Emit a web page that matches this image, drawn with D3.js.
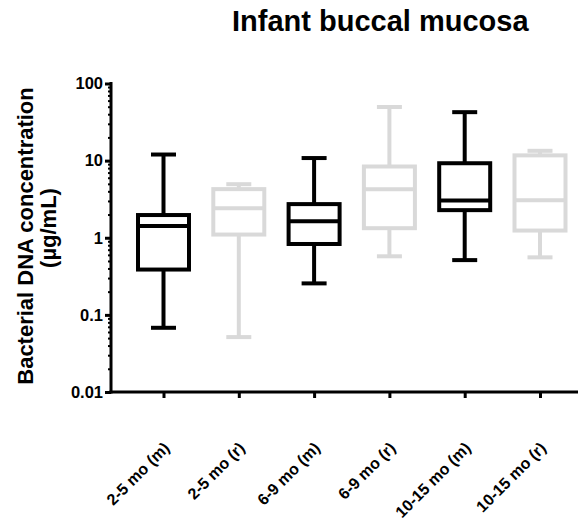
<!DOCTYPE html>
<html>
<head>
<meta charset="utf-8">
<script src="https://cdn.jsdelivr.net/npm/d3@7"></script>
<style>
  html, body { margin: 0; padding: 0; background: #fff; }
  svg { display: block; }
</style>
</head>
<body>
<svg id="chart" width="578" height="525"></svg>
<script>
// Groups (age range, m / r sample type)
const categories = ["2-5 mo (m)", "2-5 mo (r)", "6-9 mo (m)", "6-9 mo (r)", "10-15 mo (m)", "10-15 mo (r)"];
// Box-and-whisker summaries, µg/mL
const minValues    = [0.068, 0.0515, 0.256, 0.575, 0.513, 0.557];
const q1Values     = [0.387, 1.10,   0.83,  1.33,  2.28,  1.24];
const medianValues = [1.42,  2.42,   1.64,  4.27,  3.05,  3.07];
const q3Values     = [1.97,  4.27,   2.73,  8.39,  9.25,  11.7];
const maxValues    = [12.0,  4.95,   10.8,  49.6,  42.5,  13.4];
const seriesColors = ["#000000", "#d9d9d9", "#000000", "#d9d9d9", "#000000", "#d9d9d9"];
const yTickValues = [0.01, 0.1, 1, 10, 100];
const yTickLabels = ["0.01", "0.1", "1", "10", "100"];

const boxes = categories.map((c, i) => ({
  cat: c, min: minValues[i], q1: q1Values[i], med: medianValues[i],
  q3: q3Values[i], max: maxValues[i], color: seriesColors[i]
}));

const svg = d3.select("#chart");
const plotLeft = 111, plotRight = 578, plotTop = 83.5, plotBottom = 392;
const fontFamily = "'Liberation Sans', Arial, sans-serif";

const x = d3.scalePoint().domain(categories).range([163.5, 540]);
const y = d3.scaleLog().domain([0.01, 100]).range([plotBottom, plotTop]);

const boxW = 51, capW = 25, sw = 4;

// boxes
const grp = svg.append("g").selectAll("g.box").data(boxes).join("g").attr("class", "box");
grp.append("line")
  .attr("x1", d => x(d.cat)).attr("x2", d => x(d.cat))
  .attr("y1", d => y(d.max)).attr("y2", d => y(d.q3))
  .attr("stroke", d => d.color).attr("stroke-width", sw);
grp.append("line")
  .attr("x1", d => x(d.cat)).attr("x2", d => x(d.cat))
  .attr("y1", d => y(d.q1)).attr("y2", d => y(d.min))
  .attr("stroke", d => d.color).attr("stroke-width", sw);
grp.append("line")
  .attr("x1", d => x(d.cat) - capW / 2).attr("x2", d => x(d.cat) + capW / 2)
  .attr("y1", d => y(d.max)).attr("y2", d => y(d.max))
  .attr("stroke", d => d.color).attr("stroke-width", sw);
grp.append("line")
  .attr("x1", d => x(d.cat) - capW / 2).attr("x2", d => x(d.cat) + capW / 2)
  .attr("y1", d => y(d.min)).attr("y2", d => y(d.min))
  .attr("stroke", d => d.color).attr("stroke-width", sw);
grp.append("rect")
  .attr("x", d => x(d.cat) - boxW / 2).attr("width", boxW)
  .attr("y", d => y(d.q3)).attr("height", d => y(d.q1) - y(d.q3))
  .attr("fill", "#fff").attr("stroke", d => d.color).attr("stroke-width", sw);
grp.append("line")
  .attr("x1", d => x(d.cat) - boxW / 2).attr("x2", d => x(d.cat) + boxW / 2)
  .attr("y1", d => y(d.med)).attr("y2", d => y(d.med))
  .attr("stroke", d => d.color).attr("stroke-width", sw);

// y axis: minor ticks
const minorTicks = [];
for (let e = -2; e < 2; e++) for (let k = 2; k <= 9; k++) minorTicks.push(k * Math.pow(10, e));
svg.append("g").attr("transform", `translate(${plotLeft},0)`)
  .call(d3.axisLeft(y).tickValues(minorTicks).tickSize(3).tickFormat(""))
  .call(a => a.select(".domain").remove())
  .call(a => a.selectAll("line").attr("stroke", "#000").attr("stroke-width", 2));

// y axis: decades
svg.append("g").attr("transform", `translate(${plotLeft},0)`)
  .call(d3.axisLeft(y).tickValues(yTickValues).tickSize(6).tickPadding(2)
    .tickFormat((d, i) => yTickLabels[i]))
  .call(a => a.select(".domain").remove())
  .call(a => a.selectAll("line").attr("stroke", "#000").attr("stroke-width", 3))
  .call(a => a.selectAll("text").attr("fill", "#000")
    .style("font-family", fontFamily)
    .style("font-size", "16.5px").style("font-weight", "bold"));

// x axis ticks
svg.append("g").attr("transform", `translate(0,${plotBottom})`)
  .call(d3.axisBottom(x).tickSize(6).tickFormat(""))
  .call(a => a.select(".domain").remove())
  .call(a => a.selectAll("line").attr("stroke", "#000").attr("stroke-width", 3));

// axis lines
svg.append("line").attr("x1", plotLeft).attr("x2", plotLeft)
  .attr("y1", plotTop - 1.5).attr("y2", plotBottom + 1.5)
  .attr("stroke", "#000").attr("stroke-width", 3);
svg.append("line").attr("x1", plotLeft - 1.5).attr("x2", plotRight)
  .attr("y1", plotBottom).attr("y2", plotBottom)
  .attr("stroke", "#000").attr("stroke-width", 3);

// x category labels, rotated
svg.append("g").selectAll("text").data(categories).join("text")
  .attr("transform", d => `translate(${x(d) + 7},449) rotate(-45)`)
  .attr("text-anchor", "end")
  .style("font-family", fontFamily)
  .style("font-size", "16px").style("font-weight", "bold")
  .text(d => d);

// chart title
svg.append("text").attr("x", 232).attr("y", 31)
  .style("font-family", fontFamily)
  .style("font-size", "29px").style("font-weight", "bold")
  .text("Infant buccal mucosa");

// y axis title (two lines)
svg.append("text").attr("transform", "translate(33,236) rotate(-90)")
  .attr("text-anchor", "middle")
  .style("font-family", fontFamily)
  .style("font-size", "22px").style("font-weight", "bold")
  .text("Bacterial DNA concentration");
svg.append("text").attr("transform", "translate(56,228) rotate(-90)")
  .attr("text-anchor", "middle")
  .style("font-family", fontFamily)
  .style("font-size", "22px").style("font-weight", "bold")
  .text("(µg/mL)");
</script>
</body>
</html>
